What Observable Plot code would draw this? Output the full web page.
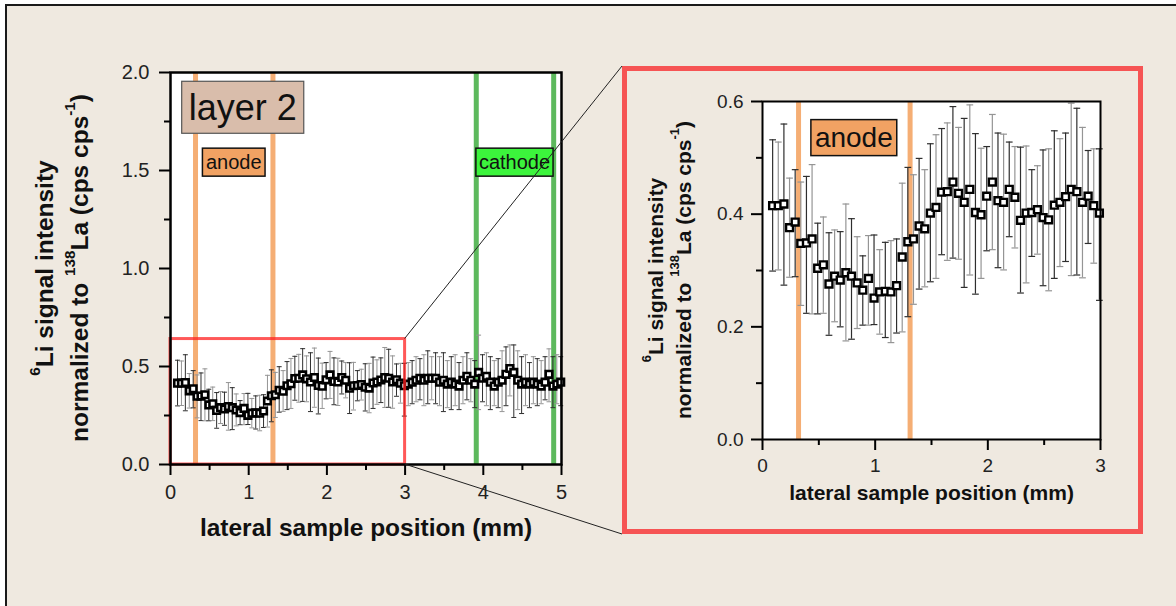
<!DOCTYPE html>
<html>
<head>
<meta charset="utf-8">
<script src="https://cdn.jsdelivr.net/npm/d3@7"></script>
<script src="https://cdn.jsdelivr.net/npm/@observablehq/plot@0.6"></script>
<style>
  html, body { margin: 0; padding: 0; background: #ffffff; }
  #figure { position: relative; width: 1176px; height: 606px; overflow: hidden;
            font-family: "Liberation Sans", Arial, Helvetica, sans-serif; }
  #panel { position: absolute; left: 5px; top: 4px; width: 1200px; height: 700px;
           border: 2px solid #1a1a1a; background: #EFE9E0; }
  #left { position: absolute; left: 0; top: 0; }
  #inset { position: absolute; left: 622px; top: 66px; width: 521px; height: 468px;
           border: 5px solid #F65454; box-sizing: border-box; }
  #overlay { position: absolute; left: 0; top: 0; pointer-events: none; }
  svg { overflow: visible; }
</style>
</head>
<body>
<div id="figure">
  <div id="panel"></div>
  <div id="left"></div>
  <div id="inset"></div>
  <svg id="overlay" width="1176" height="606"></svg>
</div>
<script>
// Lateral 6Li/138La profile across layer 2 (position in mm)
const positions = [
  0.09, 0.14, 0.19, 0.24, 0.29, 0.34, 0.39, 0.44, 0.49, 0.54,
  0.59, 0.64, 0.69, 0.74, 0.79, 0.84, 0.89, 0.94, 0.99, 1.04,
  1.09, 1.14, 1.19, 1.24, 1.29, 1.34, 1.39, 1.44, 1.49, 1.54,
  1.59, 1.64, 1.69, 1.74, 1.79, 1.84, 1.89, 1.94, 1.99, 2.04,
  2.09, 2.14, 2.19, 2.24, 2.29, 2.34, 2.39, 2.44, 2.49, 2.54,
  2.59, 2.64, 2.69, 2.74, 2.79, 2.84, 2.89, 2.94, 2.99,
  3.04, 3.09, 3.14, 3.19, 3.24, 3.29, 3.34, 3.39, 3.44, 3.49,
  3.54, 3.59, 3.64, 3.69, 3.74, 3.79, 3.84, 3.89, 3.94, 3.99,
  4.04, 4.09, 4.14, 4.19, 4.24, 4.29, 4.34, 4.39, 4.44, 4.49,
  4.54, 4.59, 4.64, 4.69, 4.74, 4.79, 4.84, 4.89, 4.94, 4.99
];
// normalized signal (cps/cps)
const signal = [
  0.415, 0.415, 0.418, 0.376, 0.386, 0.348, 0.349, 0.356, 0.304, 0.310,
  0.276, 0.290, 0.283, 0.296, 0.290, 0.278, 0.265, 0.286, 0.251, 0.262,
  0.263, 0.262, 0.273, 0.324, 0.351, 0.356, 0.379, 0.374, 0.402, 0.412,
  0.439, 0.440, 0.457, 0.437, 0.421, 0.444, 0.403, 0.399, 0.432, 0.457,
  0.424, 0.421, 0.444, 0.430, 0.389, 0.402, 0.403, 0.408, 0.394, 0.390,
  0.416, 0.421, 0.431, 0.444, 0.440, 0.421, 0.432, 0.415, 0.402,
  0.41, 0.42, 0.43, 0.44, 0.43, 0.44, 0.44, 0.44, 0.42, 0.43,
  0.41, 0.42, 0.41, 0.40, 0.43, 0.45, 0.43, 0.41, 0.47, 0.44,
  0.45, 0.42, 0.40, 0.42, 0.43, 0.46, 0.49, 0.47, 0.43, 0.41,
  0.42, 0.41, 0.42, 0.41, 0.40, 0.42, 0.46, 0.40, 0.41, 0.42
];
// upper end of each error bar
const barTop = [
  0.532, 0.528, 0.560, 0.464, 0.479, 0.457, 0.467, 0.488, 0.384, 0.395,
  0.367, 0.372, 0.369, 0.418, 0.392, 0.360, 0.326, 0.362, 0.363, 0.337,
  0.350, 0.353, 0.356, 0.455, 0.483, 0.470, 0.499, 0.479, 0.525, 0.541,
  0.552, 0.562, 0.591, 0.554, 0.570, 0.594, 0.543, 0.517, 0.520, 0.577,
  0.544, 0.542, 0.528, 0.520, 0.519, 0.521, 0.479, 0.486, 0.514, 0.516,
  0.548, 0.534, 0.544, 0.597, 0.588, 0.554, 0.513, 0.516, 0.516,
  0.52, 0.53, 0.55, 0.54, 0.56, 0.58, 0.55, 0.57, 0.55, 0.57,
  0.53, 0.55, 0.56, 0.52, 0.55, 0.57, 0.54, 0.53, 0.66, 0.56,
  0.57, 0.55, 0.53, 0.54, 0.58, 0.60, 0.61, 0.61, 0.58, 0.55,
  0.56, 0.52, 0.55, 0.54, 0.53, 0.55, 0.59, 0.55, 0.56, 0.55
];
// lower end of each error bar
const barBottom = [
  0.299, 0.301, 0.274, 0.288, 0.289, 0.238, 0.224, 0.223, 0.223, 0.224,
  0.185, 0.209, 0.200, 0.175, 0.178, 0.197, 0.203, 0.203, 0.204, 0.187,
  0.181, 0.172, 0.189, 0.191, 0.218, 0.240, 0.267, 0.271, 0.280, 0.286,
  0.328, 0.318, 0.322, 0.320, 0.270, 0.292, 0.258, 0.286, 0.335, 0.337,
  0.305, 0.301, 0.360, 0.340, 0.260, 0.278, 0.325, 0.329, 0.273, 0.264,
  0.286, 0.307, 0.316, 0.291, 0.292, 0.287, 0.348, 0.313, 0.247,
  0.30, 0.31, 0.32, 0.33, 0.30, 0.31, 0.33, 0.31, 0.30, 0.27,
  0.29, 0.28, 0.30, 0.28, 0.31, 0.33, 0.32, 0.29, 0.28, 0.32,
  0.30, 0.28, 0.30, 0.29, 0.27, 0.30, 0.35, 0.24, 0.28, 0.26,
  0.30, 0.29, 0.31, 0.30, 0.31, 0.33, 0.32, 0.29, 0.31, 0.30
];

// electrode boundaries (mm)
const anodeLines = [0.32, 1.31];
const cathodeLines = [3.91, 4.90];

// enlarged window
const zoomX = [0, 3];
const zoomY = [0, 0.64];

// axis ticks
const leftMajorX = [0, 1, 2, 3, 4, 5];
const leftMinorX = [0.5, 1.5, 2.5, 3.5, 4.5];
const leftMajorY = [0, 0.5, 1.0, 1.5, 2.0];
const leftMinorY = [0.25, 0.75, 1.25, 1.75];
const rightMajorX = [0, 1, 2, 3];
const rightMinorX = [0.5, 1.5, 2.5];
const rightMajorY = [0, 0.2, 0.4, 0.6];
const rightMinorY = [0.1, 0.3, 0.5];

// texts
const xTitle = "lateral sample position (mm)";
const yTitleLines = [
  [["6", true], ["Li signal intensity", false]],
  [["normalized to ", false], ["138", true], ["La (cps cps", false], ["-1", true], [")", false]]
];
const layerName = "layer 2";
const anodeName = "anode";
const cathodeName = "cathode";

const font = '"Liberation Sans", Arial, Helvetica, sans-serif';
const barTones = ["#2e2e2e", "#959595"];

const rows = positions.map((x, i) => ({
  x, y: signal[i], hi: barTop[i], lo: barBottom[i], tone: barTones[i % 2]
}));

// short horizontal stroke used as error-bar cap
const capSymbol = {
  draw(ctx, size) {
    const w = Math.sqrt(size) / 2;
    ctx.moveTo(-w, 0);
    ctx.lineTo(w, 0);
  }
};

function profileMarks(data, o) {
  return [
    Plot.ruleX(data, {x: "x", y1: "lo", y2: "hi", stroke: "tone", strokeWidth: o.bar}),
    Plot.dot(data, {x: "x", y: "hi", symbol: capSymbol, r: o.cap, stroke: "tone", fill: "none", strokeWidth: o.bar}),
    Plot.dot(data, {x: "x", y: "lo", symbol: capSymbol, r: o.cap, stroke: "tone", fill: "none", strokeWidth: o.bar}),
    Plot.dot(data, {x: "x", y: "y", symbol: "square", r: o.r, fill: "white", stroke: "black", strokeWidth: o.sw})
  ];
}

function axisMarks(o) {
  return [
    Plot.axisX(o.majorX, {tickSize: 11, tickPadding: o.padX, strokeWidth: 2, stroke: "black",
                          fontSize: o.tickFont, fill: "#222", label: null}),
    Plot.axisX(o.minorX, {tickSize: 6, strokeWidth: 2, stroke: "black", tickFormat: () => "", label: null}),
    Plot.axisY(o.majorY, {tickSize: 11, tickPadding: o.padY, strokeWidth: 2, stroke: "black",
                          fontSize: o.tickFont, fill: "#222", tickFormat: d3.format(".1f"), label: null}),
    Plot.axisY(o.minorY, {tickSize: 6, strokeWidth: 2, stroke: "black", tickFormat: () => "", label: null})
  ];
}

// overview profile, 0–5 mm
const leftPlot = Plot.plot({
  width: 600, height: 560,
  marginLeft: 170, marginRight: 39, marginTop: 72, marginBottom: 96,
  x: {domain: [0, 5], label: null},
  y: {domain: [0, 2], label: null},
  color: {type: "identity"},
  style: {background: "transparent", fontFamily: font, fontSize: "20px", color: "#222", overflow: "visible"},
  marks: [
    Plot.frame({fill: "white", stroke: "none"}),
    Plot.ruleX(anodeLines, {stroke: "#F5AE74", strokeWidth: 5}),
    Plot.ruleX(cathodeLines, {stroke: "#5DB95D", strokeWidth: 5}),
    ...profileMarks(rows, {bar: 1, cap: 2.8, r: 3.7, sw: 2.6}),
    Plot.rect([{x1: zoomX[0], x2: zoomX[1], y1: zoomY[0], y2: zoomY[1]}],
              {x1: "x1", x2: "x2", y1: "y1", y2: "y2", fill: "none",
               stroke: "#FF2020", strokeOpacity: 0.75, strokeWidth: 3}),
    Plot.frame({stroke: "black", strokeWidth: 2.5}),
    ...axisMarks({majorX: leftMajorX, minorX: leftMinorX, majorY: leftMajorY, minorY: leftMinorY,
                  padX: 9, padY: 10, tickFont: 20}),
    Plot.text([xTitle], {frameAnchor: "bottom", dy: 71, fontSize: 24.5, fontWeight: "bold", fill: "#111"})
  ]
});
document.getElementById("left").appendChild(leftPlot);

// enlarged profile, 0–3 mm
const rightPlot = Plot.plot({
  width: 511, height: 458,
  marginLeft: 135, marginRight: 38, marginTop: 30, marginBottom: 90,
  x: {domain: zoomX, label: null},
  y: {domain: [0, 0.6], label: null},
  color: {type: "identity"},
  style: {background: "transparent", fontFamily: font, fontSize: "19px", color: "#222", overflow: "visible"},
  marks: [
    Plot.frame({fill: "white", stroke: "none"}),
    Plot.ruleX(anodeLines, {stroke: "#F5AE74", strokeWidth: 5}),
    ...profileMarks(rows.filter(d => d.x <= zoomX[1]), {bar: 1.2, cap: 3.8, r: 3.9, sw: 2.4}),
    Plot.frame({stroke: "black", strokeWidth: 2}),
    ...axisMarks({majorX: rightMajorX, minorX: rightMinorX, majorY: rightMajorY, minorY: rightMinorY,
                  padX: 8, padY: 8, tickFont: 19}),
    Plot.text([xTitle], {frameAnchor: "bottom", dy: 60, fontSize: 21, fontWeight: "bold", fill: "#111"})
  ]
});
document.getElementById("inset").appendChild(rightPlot);

// rotated two-line y title with superscripts
function addYTitle(svg, centers, cy, size) {
  const g = d3.select(svg).append("g")
    .attr("font-family", font).attr("font-weight", "bold")
    .attr("font-size", size).attr("fill", "#111");
  yTitleLines.forEach((parts, k) => {
    const t = g.append("text")
      .attr("transform", `translate(${centers[k]},${cy}) rotate(-90)`)
      .attr("text-anchor", "middle").attr("dominant-baseline", "central");
    let raised = false;
    const lift = size * 0.42;
    parts.forEach(([str, sup]) => {
      const s = t.append("tspan").text(str);
      if (sup && !raised) { s.attr("dy", -lift); raised = true; }
      else if (!sup && raised) { s.attr("dy", lift); raised = false; }
      if (sup) s.attr("font-size", size * 0.62);
    });
  });
}

// boxed annotation centred on (cx, cy)
function addTag(svg, cx, cy, label, o) {
  const g = d3.select(svg).append("g");
  const rect = g.append("rect");
  const t = g.append("text")
    .attr("x", cx).attr("y", cy)
    .attr("text-anchor", "middle").attr("dominant-baseline", "central")
    .attr("font-family", font).attr("font-size", o.size).attr("fill", "#111")
    .text(label);
  const b = t.node().getBBox();
  rect.attr("x", b.x - o.padX).attr("y", b.y - o.padY)
    .attr("width", b.width + 2 * o.padX).attr("height", b.height + 2 * o.padY)
    .attr("fill", o.fill).attr("stroke", o.stroke).attr("stroke-width", o.strokeWidth);
}

const lx = leftPlot.scale("x"), ly = leftPlot.scale("y");
const rx = rightPlot.scale("x"), ry = rightPlot.scale("y");
const anodeMid = d3.mean(anodeLines), cathodeMid = d3.mean(cathodeLines);

addYTitle(leftPlot, [44, 79], (ly.apply(0) + ly.apply(2)) / 2, 24.5);
addYTitle(rightPlot, [28, 56], (ry.apply(0) + ry.apply(0.6)) / 2, 21);

addTag(leftPlot, lx.apply(0.93), ly.apply(1.82), layerName,
       {size: 36, padX: 7, padY: 5.5, fill: "#D9BDAB", stroke: "#555", strokeWidth: 1.2});
addTag(leftPlot, lx.apply(anodeMid), ly.apply(1.54), anodeName,
       {size: 20, padX: 3.5, padY: 3, fill: "#F1A263", stroke: "#111", strokeWidth: 1.5});
addTag(leftPlot, lx.apply(cathodeMid), ly.apply(1.54), cathodeName,
       {size: 20, padX: 3, padY: 3, fill: "#3CF43C", stroke: "#111", strokeWidth: 1.5});
addTag(rightPlot, rx.apply(anodeMid), ry.apply(0.535), anodeName,
       {size: 28, padX: 4, padY: 2.5, fill: "#F1A263", stroke: "#111", strokeWidth: 1.5});

// leader lines from the zoom window to the enlarged panel
const inset = document.getElementById("inset");
const bx = inset.offsetLeft, by = inset.offsetTop, bh = inset.offsetHeight;
const ov = d3.select("#overlay");
const wx = lx.apply(zoomX[1]);
[[ly.apply(zoomY[1]), by], [ly.apply(zoomY[0]), by + bh]].forEach(([y0, y1]) => {
  ov.append("line").attr("x1", wx).attr("y1", y0).attr("x2", bx).attr("y2", y1)
    .attr("stroke", "#222").attr("stroke-width", 1);
});
</script>
</body>
</html>
